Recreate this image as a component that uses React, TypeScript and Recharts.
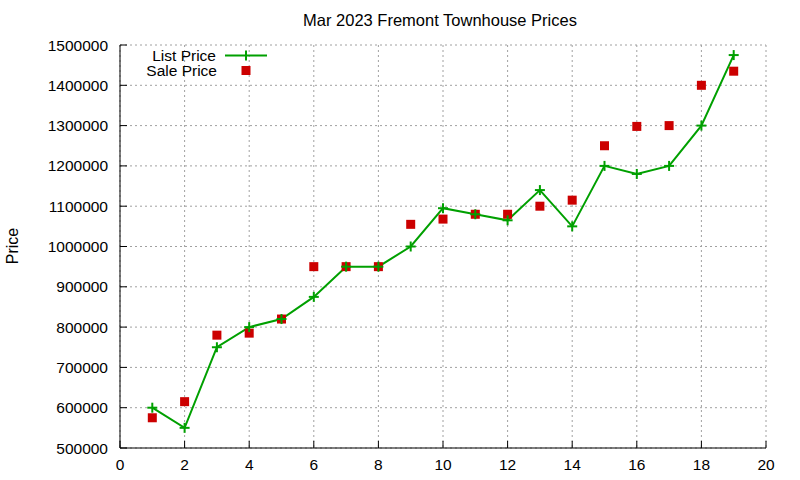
import React from 'react';
import {
  ComposedChart,
  Line,
  Scatter,
  XAxis,
  YAxis,
  CartesianGrid,
  Legend,
} from 'recharts';

const days = [1, 2, 3, 4, 5, 6, 7, 8, 9, 10, 11, 12, 13, 14, 15, 16, 17, 18, 19];
const listPrices = [
  600000, 550000, 750000, 800000, 820000, 875000, 950000, 950000, 1000000, 1095000,
  1080000, 1065000, 1140000, 1050000, 1200000, 1180000, 1200000, 1300000, 1475000,
];
const salePrices = [
  575000, 615000, 780000, 785000, 820000, 950000, 950000, 950000, 1055000, 1068000,
  1080000, 1080000, 1100000, 1115000, 1250000, 1298000, 1300000, 1400000, 1435000,
];
const xTicks = [0, 2, 4, 6, 8, 10, 12, 14, 16, 18, 20];
const yTicks = [
  500000, 600000, 700000, 800000, 900000, 1000000, 1100000, 1200000, 1300000, 1400000, 1500000,
];

const GREEN = '#00a000';
const RED = '#cc0000';
const FONT = '"Liberation Sans", Arial, sans-serif';

const data = days.map((d, i) => ({ x: d, list: listPrices[i], sale: salePrices[i] }));

const PlusDot = (props: any) => {
  const { cx, cy } = props;
  if (cx == null || cy == null) return null;
  return (
    <g>
      <line x1={cx - 5} y1={cy} x2={cx + 5} y2={cy} stroke={GREEN} strokeWidth={2} />
      <line x1={cx} y1={cy - 5} x2={cx} y2={cy + 5} stroke={GREEN} strokeWidth={2} />
    </g>
  );
};

const SquareDot = (props: any) => {
  const { cx, cy } = props;
  if (cx == null || cy == null) return null;
  return <rect x={cx - 4.5} y={cy - 4.5} width={9} height={9} fill={RED} />;
};

const LegendBox = () => (
  <svg width={160} height={40} style={{ overflow: 'visible', display: 'block' }}>
    <text x={96} y={10.5} textAnchor="end" dominantBaseline="central" fontSize={15.5} fontFamily={FONT} fill="#000">
      List Price
    </text>
    <line x1={105} y1={10.5} x2={147} y2={10.5} stroke={GREEN} strokeWidth={2} />
    <line x1={126} y1={5.5} x2={126} y2={15.5} stroke={GREEN} strokeWidth={2} />
    <text x={97} y={25.5} textAnchor="end" dominantBaseline="central" fontSize={15.5} fontFamily={FONT} fill="#000">
      Sale Price
    </text>
    <rect x={121.5} y={21} width={9} height={9} fill={RED} />
  </svg>
);

export default function App() {
  const tickStyle = { fontSize: 15.5, fontFamily: FONT, fill: '#000' };
  return (
    <div style={{ position: 'absolute', left: 0, top: 0, width: 800, height: 480, background: '#fff' }}>
      <ComposedChart
        width={800}
        height={480}
        data={data}
        margin={{ top: 45, right: 34, bottom: 0, left: 0 }}
      >
        <CartesianGrid stroke="#a0a0a0" strokeDasharray="2 3" />
        <XAxis
          dataKey="x"
          type="number"
          domain={[0, 20]}
          ticks={xTicks}
          height={32}
          tickSize={-7}
          tickMargin={18}
          tick={tickStyle}
          axisLine={{ stroke: '#000' }}
          tickLine={{ stroke: '#000' }}
        />
        <XAxis
          xAxisId="top"
          orientation="top"
          type="number"
          domain={[0, 20]}
          ticks={xTicks}
          height={0}
          tickSize={-7}
          tick={false}
          axisLine={{ stroke: '#000' }}
          tickLine={{ stroke: '#000' }}
        />
        <YAxis
          type="number"
          domain={[500000, 1500000]}
          ticks={yTicks}
          width={120}
          tickSize={-7}
          tickMargin={19}
          tick={tickStyle}
          axisLine={{ stroke: '#000' }}
          tickLine={{ stroke: '#000' }}
        />
        <YAxis
          yAxisId="right"
          orientation="right"
          type="number"
          domain={[500000, 1500000]}
          ticks={yTicks}
          width={0}
          tickSize={-7}
          tick={false}
          axisLine={{ stroke: '#000' }}
          tickLine={{ stroke: '#000' }}
        />
        <Legend
          layout="horizontal"
          align="center"
          verticalAlign="middle"
          content={<LegendBox />}
          wrapperStyle={{ position: 'absolute', left: 120, top: 45, width: 160, height: 40 }}
        />
        <Line
          dataKey="list"
          name="List Price"
          stroke={GREEN}
          strokeWidth={2}
          dot={<PlusDot />}
          activeDot={false}
          isAnimationActive={false}
        />
        <Scatter
          dataKey="sale"
          name="Sale Price"
          fill={RED}
          shape={<SquareDot />}
          isAnimationActive={false}
        />
      </ComposedChart>
      <svg
        width={800}
        height={480}
        style={{ position: 'absolute', left: 0, top: 0, pointerEvents: 'none' }}
      >
        <text x={440} y={20} textAnchor="middle" dominantBaseline="central" fontSize={16.5} fontFamily={FONT} fill="#000">
          Mar 2023 Fremont Townhouse Prices
        </text>
        <text
          x={12}
          y={246}
          textAnchor="middle"
          dominantBaseline="central"
          fontSize={16}
          fontFamily={FONT}
          fill="#000"
          transform="rotate(-90 12 246)"
        >
          Price
        </text>
      </svg>
    </div>
  );
}
